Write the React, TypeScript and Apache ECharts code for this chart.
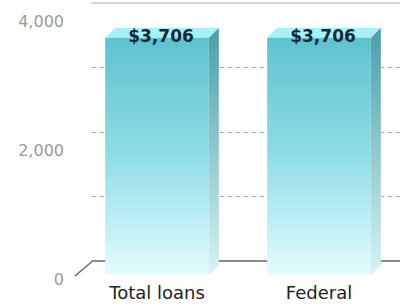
import React, { useEffect, useRef } from "react";
import * as echarts from "echarts";

const categories = ["Total loans", "Federal"];
const values = [3706, 3706];
const valueLabels = ["$3,706", "$3,706"];
const yMin = 0;
const yMax = 4000;
const gridInterval = 1000;
const labelInterval = 2000;

export default function App() {
  const ref = useRef<HTMLDivElement>(null);
  useEffect(() => {
    if (!ref.current) return;
    const chart = echarts.init(ref.current, undefined, { renderer: "svg" });
    const depth = 10;
    const font = "'DejaVu Sans', Verdana, sans-serif";
    const option: any = {
      animation: false,
      backgroundColor: "#ffffff",
      grid: [
        { left: 92, right: 0, top: 3, bottom: 46 },
        { left: 76, right: 0, top: 19, bottom: 32 },
        { left: 76, right: 0, top: 21, bottom: 28 },
      ],
      xAxis: [
        {
          gridIndex: 0,
          type: "category",
          data: categories,
          axisLine: { show: true, lineStyle: { color: "#666", width: 1.5 } },
          axisTick: { show: false },
          axisLabel: { show: false },
        },
        {
          gridIndex: 0,
          type: "category",
          position: "top",
          data: categories,
          axisLine: { show: true, lineStyle: { color: "#d4d4d4", width: 2 } },
          axisTick: { show: false },
          axisLabel: { show: false },
        },
        {
          gridIndex: 1,
          type: "category",
          data: categories,
          axisLine: { show: false },
          axisTick: { show: false },
          axisLabel: {
            fontSize: 18,
            color: "#222",
            fontFamily: font,
            margin: 8,
          },
        },
        {
          gridIndex: 2,
          type: "category",
          data: categories,
          show: false,
        },
      ],
      yAxis: [
        {
          gridIndex: 0,
          type: "value",
          min: yMin,
          max: yMax,
          interval: gridInterval,
          axisLine: { show: false },
          axisTick: { show: false },
          axisLabel: { show: false },
          splitLine: {
            show: true,
            showMinLine: false,
            showMaxLine: false,
            lineStyle: { color: "#aaa", type: [4, 4], width: 1 },
          },
        },
        {
          gridIndex: 1,
          type: "value",
          min: yMin,
          max: yMax,
          show: false,
          splitLine: { show: false },
        },
        {
          gridIndex: 2,
          type: "value",
          min: yMin,
          max: yMax,
          interval: labelInterval,
          axisLine: { show: false },
          axisTick: { show: false },
          splitLine: { show: false },
          axisLabel: {
            fontSize: 16,
            color: "#9a9a9a",
            fontFamily: font,
            margin: 12,
            formatter: (v: number) => v.toLocaleString("en-US"),
          },
        },
      ],
      graphic: [
        {
          type: "line",
          shape: { x1: 75, y1: 276, x2: 92, y2: 261.5 },
          style: { stroke: "#666", lineWidth: 1.5 },
          z: 1,
        },
      ],
      series: [
        {
          type: "custom",
          xAxisIndex: 2,
          yAxisIndex: 1,
          z: 10,
          encode: { x: 0, y: 1 },
          data: values.map((v, i) => [i, v]),
          renderItem: (params: any, api: any) => {
            const i = api.value(0);
            const v = api.value(1);
            const top = api.coord([i, v]);
            const base = api.coord([i, 0]);
            const w = api.size([1, 0])[0] * 0.64;
            const xl = top[0] - w / 2;
            const xr = top[0] + w / 2;
            const yt = top[1];
            const yb = base[1];
            return {
              type: "group",
              children: [
                {
                  type: "polygon",
                  shape: {
                    points: [
                      [xr, yt],
                      [xr + depth, yt - depth],
                      [xr + depth, yb - depth],
                      [xr, yb],
                    ],
                  },
                  style: {
                    fill: new echarts.graphic.LinearGradient(0, 0, 0, 1, [
                      { offset: 0, color: "#4b9ea8" },
                      { offset: 1, color: "#d8f3f5" },
                    ]),
                  },
                },
                {
                  type: "polygon",
                  shape: {
                    points: [
                      [xl, yt],
                      [xl + depth, yt - depth],
                      [xr + depth, yt - depth],
                      [xr, yt],
                    ],
                  },
                  style: { fill: "#a6f2f7" },
                },
                {
                  type: "rect",
                  shape: { x: xl, y: yt, width: w, height: yb - yt },
                  style: {
                    fill: new echarts.graphic.LinearGradient(0, 0, 0, 1, [
                      { offset: 0, color: "#5dc3cf" },
                      { offset: 0.5, color: "#8fdde6" },
                      { offset: 1, color: "#e4fdfe" },
                    ]),
                  },
                },
                {
                  type: "text",
                  x: top[0] + 4,
                  y: yt - 2,
                  style: {
                    text: valueLabels[params.dataIndex],
                    fill: "#1a2836",
                    font: "bold 17px 'DejaVu Sans', Verdana, sans-serif",
                    align: "center",
                    verticalAlign: "middle",
                  },
                },
              ],
            };
          },
        },
      ],
    };
    chart.setOption(option);
    return () => chart.dispose();
  }, []);
  return (
    <div
      ref={ref}
      style={{ position: "absolute", left: 0, top: 0, width: 400, height: 307 }}
    />
  );
}
